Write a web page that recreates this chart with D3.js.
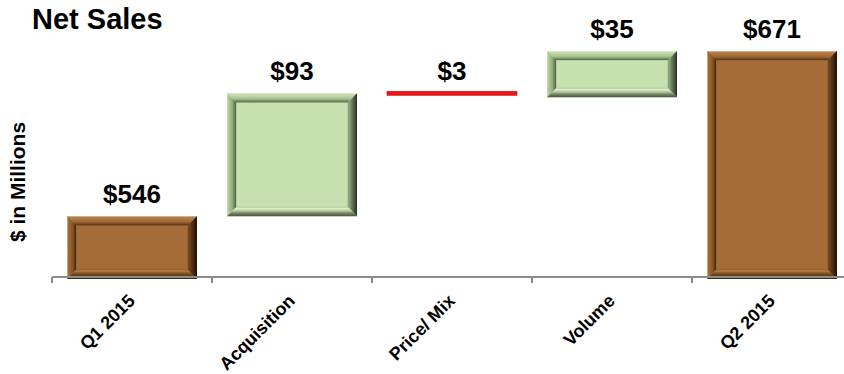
<!DOCTYPE html>
<html>
<head>
<meta charset="utf-8">
<script src="https://cdn.jsdelivr.net/npm/d3@7"></script>
<style>
  body { margin: 0; background: #fff; }
  svg { display: block; font-family: Arial, "Liberation Sans", sans-serif; }
</style>
</head>
<body>
<div id="chart"></div>
<script>
// waterfall data
const categories = ["Q1 2015", "Acquisition", "Price/ Mix", "Volume", "Q2 2015"];
const values = [546, 93, -3, 35, 671];
const valueLabels = ["$546", "$93", "$3", "$35", "$671"];
const kinds = ["total", "up", "down", "up", "total"];

const width = 844, height = 374;
const baseY = 277;

const svg = d3.select("#chart").append("svg")
    .attr("width", width)
    .attr("height", height);

// running totals -> start / end for each step
let run = 0;
const steps = categories.map((c, i) => {
    let start, end;
    if (kinds[i] === "total") { start = null; end = values[i]; run = values[i]; }
    else { start = run; end = run + values[i]; run = end; }
    return {cat: c, start: start, end: end, kind: kinds[i], label: valueLabels[i]};
});

const x = d3.scaleBand()
    .domain(categories)
    .range([52, 852])
    .paddingInner(0.1875)
    .paddingOuter(0.09375);

const y = d3.scaleLinear()
    .domain([500, 671])
    .range([baseY, 51]);

// gradients for bevelled bars
const defs = svg.append("defs");
function grad(id, dir, stops) {
    const g = defs.append("linearGradient").attr("id", id);
    if (dir === "v") g.attr("x1", 0).attr("y1", 0).attr("x2", 0).attr("y2", 1);
    else g.attr("x1", 0).attr("y1", 0).attr("x2", 1).attr("y2", 0);
    stops.forEach(s => g.append("stop").attr("offset", s[0]).attr("stop-color", s[1]));
}
const palettes = {
    brown: {face: "#a66c38", edge: "#4e3015",
        top: [["0", "#cfc8c0"], ["0.15", "#b77e47"], ["0.6", "#a26935"], ["1", "#5a3818"]],
        left: [["0", "#cfc8c0"], ["0.15", "#a06a34"], ["0.6", "#8a5828"], ["1", "#432810"]],
        right: [["0", "#7a4c22"], ["0.6", "#44280e"], ["1", "#1e1208"]],
        bottom: [["0", "#c58d55"], ["0.4", "#7a4c22"], ["1", "#3a2410"]]},
    green: {face: "#c6e0b0", edge: "#55644a",
        top: [["0", "#dce8d0"], ["0.15", "#c6dfae"], ["0.6", "#a9c393"], ["1", "#5a6a4c"]],
        left: [["0", "#d2dec6"], ["0.15", "#b3cc9c"], ["0.6", "#93ab7e"], ["1", "#505e44"]],
        right: [["0", "#9cb487"], ["0.6", "#56654a"], ["1", "#283022"]],
        bottom: [["0", "#f0fadf"], ["0.35", "#bdd5a6"], ["0.7", "#6e8060"], ["1", "#4a5640"]]}
};
Object.keys(palettes).forEach(k => {
    const p = palettes[k];
    grad(k + "-top", "v", p.top);
    grad(k + "-left", "h", p.left);
    grad(k + "-right", "h", p.right);
    grad(k + "-bottom", "v", p.bottom);
});

function bevelBar(g, x0, y0, x1, y1, pal) {
    const b = 9;
    g.append("rect").attr("x", x0).attr("y", y0).attr("width", x1 - x0).attr("height", y1 - y0)
        .attr("fill", palettes[pal].face);
    const pt = a => a.map(p => p.join(",")).join(" ");
    g.append("polygon").attr("points", pt([[x0, y0], [x1, y0], [x1 - b, y0 + b], [x0 + b, y0 + b]]))
        .attr("fill", `url(#${pal}-top)`);
    g.append("polygon").attr("points", pt([[x0, y0], [x0 + b, y0 + b], [x0 + b, y1 - b], [x0, y1]]))
        .attr("fill", `url(#${pal}-left)`);
    g.append("polygon").attr("points", pt([[x1, y0], [x1, y1], [x1 - b, y1 - b], [x1 - b, y0 + b]]))
        .attr("fill", `url(#${pal}-right)`);
    g.append("polygon").attr("points", pt([[x0 + b, y1 - b], [x1 - b, y1 - b], [x1, y1], [x0, y1]]))
        .attr("fill", `url(#${pal}-bottom)`);
    // thin dark line round the inner face
    g.append("rect").attr("x", x0 + b).attr("y", y0 + b)
        .attr("width", Math.max(0, x1 - x0 - 2 * b)).attr("height", Math.max(0, y1 - y0 - 2 * b))
        .attr("fill", "none").attr("stroke", palettes[pal].edge).attr("stroke-opacity", 0.35)
        .attr("stroke-width", 0.8);
}

const bars = svg.append("g").attr("class", "bars");
steps.forEach(d => {
    const x0 = x(d.cat), x1 = x(d.cat) + x.bandwidth();
    if (d.kind === "total") {
        bevelBar(bars, x0, y(d.end), x1, baseY + 2, "brown");
    } else if (d.kind === "up") {
        bevelBar(bars, x0, y(d.end), x1, y(d.start), "green");
    } else {
        bars.append("rect")
            .attr("x", x0).attr("y", y(d.start) - 2)
            .attr("width", x.bandwidth())
            .attr("height", Math.max(4, y(d.end) - y(d.start)))
            .attr("fill", "#f01414")
            .attr("stroke", "#c81010").attr("stroke-width", 0.6);
    }
});

// value labels
svg.append("g").selectAll("text")
    .data(steps)
    .join("text")
    .attr("x", d => x(d.cat) + x.bandwidth() / 2)
    .attr("y", d => y(Math.max(d.end, d.start === null ? d.end : d.start)) - 13)
    .attr("text-anchor", "middle")
    .attr("font-size", 26)
    .attr("font-weight", "bold")
    .attr("fill", "#000")
    .text(d => d.label);

// x axis: line with ticks at band boundaries
const axis = svg.append("g").attr("class", "x-axis");
axis.append("line")
    .attr("x1", x.range()[0]).attr("x2", width)
    .attr("y1", baseY).attr("y2", baseY)
    .attr("stroke", "#8c8c8c").attr("stroke-width", 2);
axis.selectAll(".tick")
    .data(categories)
    .join("line")
    .attr("class", "tick")
    .attr("x1", d => x(d) - x.step() * x.paddingOuter())
    .attr("x2", d => x(d) - x.step() * x.paddingOuter())
    .attr("y1", baseY).attr("y2", baseY + 6)
    .attr("stroke", "#8c8c8c").attr("stroke-width", 2);

axis.selectAll(".cat-label")
    .data(categories)
    .join("text")
    .attr("class", "cat-label")
    .attr("transform", d => `translate(${x(d) + x.bandwidth() / 2 + 4},${baseY + 25}) rotate(-45)`)
    .attr("text-anchor", "end")
    .attr("font-size", 18)
    .attr("font-weight", "bold")
    .attr("fill", "#000")
    .text(d => d);

// titles
svg.append("text")
    .attr("x", 32).attr("y", 29)
    .attr("font-size", 29)
    .attr("font-weight", "bold")
    .text("Net Sales");

svg.append("text")
    .attr("transform", "translate(25,182) rotate(-90)")
    .attr("text-anchor", "middle")
    .attr("font-size", 21)
    .attr("font-weight", "bold")
    .text("$ in Millions");
</script>
</body>
</html>
